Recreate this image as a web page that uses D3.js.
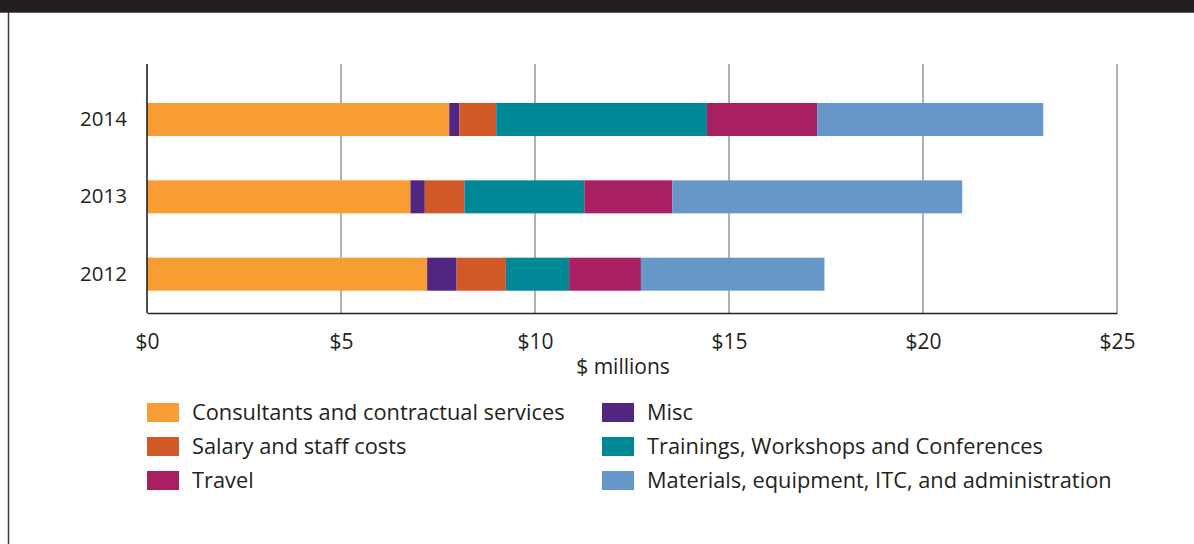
<!DOCTYPE html>
<html><head><meta charset="utf-8">
<script src="https://cdn.jsdelivr.net/npm/d3@7"></script>
<style>
html,body{margin:0;padding:0;background:#fff;}
svg{display:block;}
text{font-family:"Open Sans",sans-serif;fill:#231f20;}
</style></head>
<body><svg id="chart" width="1194" height="544"></svg>
<script>
const years = ["2014", "2013", "2012"];
const seriesNames = ["Consultants and contractual services", "Misc", "Salary and staff costs",
  "Trainings, Workshops and Conferences", "Travel", "Materials, equipment, ITC, and administration"];
const consultants = [7.79, 6.79, 7.22];
const misc = [0.26, 0.37, 0.76];
const salary = [0.95, 1.02, 1.27];
const trainings = [5.43, 3.09, 1.63];
const travel = [2.84, 2.27, 1.85];
const materials = [5.83, 7.47, 4.73];
const colors = ["#f79d34", "#512683", "#d15927", "#008896", "#a81f62", "#6797c8"];
const xTicks = [0, 5, 10, 15, 20, 25];
const legendOrder = [[0, 2, 4], [1, 3, 5]];

const svg = d3.select("#chart");
const W = 1194, H = 544;

// frame
svg.append("rect").attr("x", 0).attr("y", 0).attr("width", W).attr("height", 12.7).attr("fill", "#231f20");
svg.append("line").attr("x1", 8.5).attr("x2", 8.5).attr("y1", 12).attr("y2", H)
  .attr("stroke", "#3a3a3a").attr("stroke-width", 1.5);

const x = d3.scaleLinear().domain([0, 25]).range([147, 1117]);
const y = d3.scaleBand().domain(years).range([80.85, 312.85]).paddingInner(0.573).paddingOuter(0.2865);

const rows = years.map((yr, i) => ({year: yr, v: [consultants[i], misc[i], salary[i], trainings[i], travel[i], materials[i]]}));
const stack = d3.stack().keys(d3.range(6)).value((d, k) => d.v[k]);
const stacked = stack(rows);

// gridlines
svg.append("g").selectAll("line").data(xTicks.slice(1)).join("line")
  .attr("x1", d => x(d)).attr("x2", d => x(d)).attr("y1", 64).attr("y2", 313)
  .attr("stroke", "#9d9d9f").attr("stroke-width", 1.6);

// bars
svg.append("g").selectAll("g").data(stacked).join("g")
  .attr("fill", (d, i) => colors[i])
  .selectAll("rect").data(d => d).join("rect")
  .attr("x", d => x(d[0])).attr("width", d => x(d[1]) - x(d[0]))
  .attr("y", d => y(d.data.year)).attr("height", y.bandwidth());

// axes
const xAxis = svg.append("g").attr("transform", "translate(0,313)")
  .call(d3.axisBottom(x).tickValues(xTicks).tickSize(0).tickPadding(21).tickFormat(d => "$" + d));
xAxis.select(".domain").attr("stroke", "#231f20").attr("stroke-width", 1.6);
xAxis.selectAll("text").attr("font-size", 21).attr("font-family", "Open Sans").attr("fill", "#231f20");

const yAxis = svg.append("g").attr("transform", "translate(147,0)")
  .call(d3.axisLeft(y).tickSize(0).tickPadding(20));
yAxis.select(".domain").attr("stroke", "#231f20").attr("stroke-width", 1.6).attr("d", "M0,64V313");
yAxis.selectAll("text").attr("font-size", 20.5).attr("font-family", "Open Sans").attr("fill", "#231f20");

svg.append("text").attr("x", 623).attr("y", 367).attr("dy", "0.35em").attr("text-anchor", "middle")
  .attr("font-size", 21).text("$ millions");

// legend
const colX = [147, 602];
legendOrder.forEach((col, ci) => {
  col.forEach((si, ri) => {
    const g = svg.append("g").attr("transform", `translate(${colX[ci]},${403 + ri * 34})`);
    g.append("rect").attr("width", 32).attr("height", 19).attr("fill", colors[si]);
    g.append("text").attr("x", 45).attr("y", 9.5).attr("dy", "0.35em").attr("font-size", 21.8).text(seriesNames[si]);
  });
});
</script></body></html>
